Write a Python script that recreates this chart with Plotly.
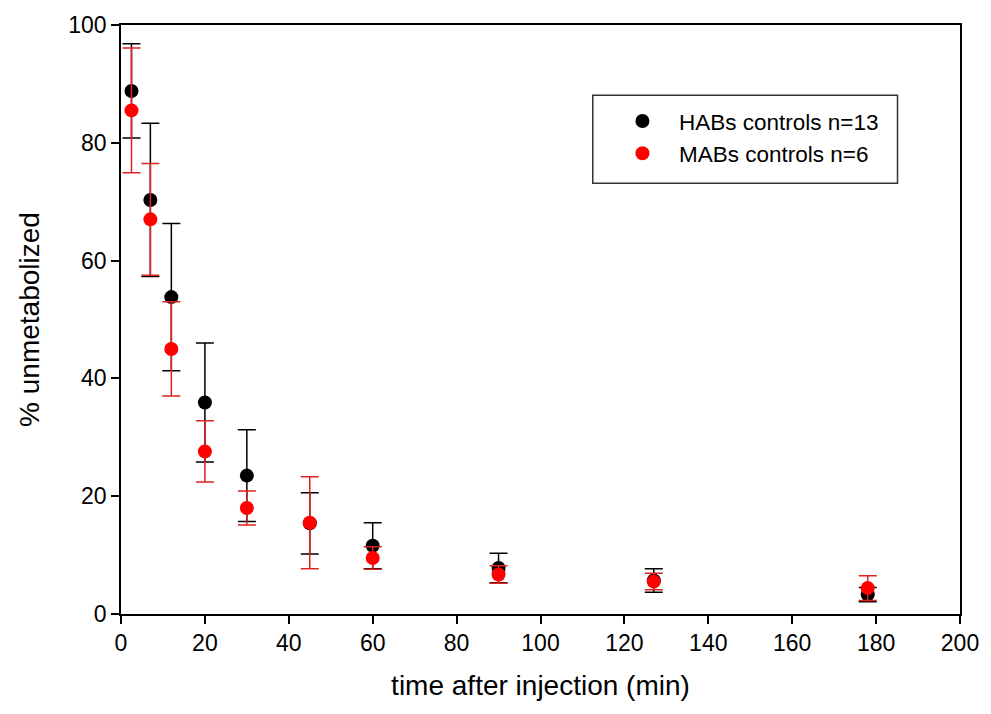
import plotly.graph_objects as go

# Data
times = [2.5, 7, 12, 20, 30, 45, 60, 90, 127, 178]
hab_mean = [88.8, 70.3, 53.8, 35.9, 23.5, 15.4, 11.6, 7.8, 5.7, 3.3]
hab_err = [8.0, 13.0, 12.5, 10.1, 7.8, 5.2, 3.9, 2.5, 2.0, 1.2]
mab_mean = [85.5, 67.0, 45.0, 27.6, 18.0, 15.5, 9.5, 6.7, 5.5, 4.4]
mab_err = [10.6, 9.5, 8.0, 5.2, 2.9, 7.8, 1.9, 1.5, 1.4, 2.1]

x_ticks = list(range(0, 201, 20))
y_ticks = list(range(0, 101, 20))

FONT = "Liberation Sans, Arial, sans-serif"

fig = go.Figure()
fig.add_trace(go.Scatter(
    x=times, y=hab_mean, mode="markers", name="HABs controls n=13",
    marker=dict(color="black", size=14),
    error_y=dict(type="data", array=hab_err, visible=True,
                 color="black", thickness=1.5, width=9),
))
fig.add_trace(go.Scatter(
    x=times, y=mab_mean, mode="markers", name="MABs controls n=6",
    marker=dict(color="#ff0000", size=14),
    error_y=dict(type="data", array=mab_err, visible=True,
                 color="#dd2222", thickness=1.5, width=9),
))

axis_common = dict(
    showgrid=False, zeroline=False, showline=True, linecolor="black",
    linewidth=1.5, mirror=True, ticks="outside", ticklen=8, tickwidth=1.5,
    tickcolor="black", tickfont=dict(family=FONT, size=23, color="black"),
)

fig.update_layout(
    width=991, height=714,
    margin=dict(l=121, r=24, t=22, b=100),
    plot_bgcolor="white", paper_bgcolor="white",
    font=dict(family=FONT, color="black"),
    xaxis=dict(range=[0, 200], tickvals=x_ticks,
               title=dict(text="time after injection (min)",
                          font=dict(family=FONT, size=28, color="black"),
                          standoff=20),
               **axis_common),
    yaxis=dict(range=[0, 100], tickvals=y_ticks,
               title=dict(text="% unmetabolized",
                          font=dict(family=FONT, size=28, color="black"),
                          standoff=20),
               **axis_common),
    legend=dict(x=0.578, y=0.873, xanchor="left", yanchor="top",
                bgcolor="rgba(0,0,0,0)", borderwidth=0,
                font=dict(family=FONT, size=22.5, color="black"),
                tracegroupgap=0, itemwidth=63),
    shapes=[dict(type="rect", xref="paper", yref="paper",
                 x0=(596.7 - 121) / 846, x1=(904 - 121) / 846,
                 y0=(614 - 181) / 592, y1=(614 - 92.7) / 592,
                 line=dict(color="#333333", width=1.5),
                 fillcolor="rgba(0,0,0,0)")],
    showlegend=True,
)

fig.write_html("out.html")
